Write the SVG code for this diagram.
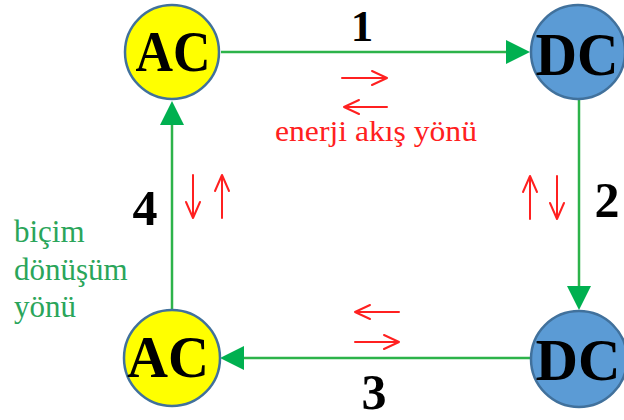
<svg xmlns="http://www.w3.org/2000/svg" width="624" height="420" viewBox="0 0 624 420">
<style>
.node{stroke:#41719c;stroke-width:2.5}
.ac{fill:#ffff00}
.dc{fill:#5b9bd5}
.nt{font-family:"Liberation Serif",serif;font-weight:bold;fill:#000;text-anchor:middle}
.num{font-family:"Liberation Serif",serif;font-weight:bold;font-size:50px;fill:#000;text-anchor:middle}
.conn{stroke:#2db34a;stroke-width:2.5;fill:none}
.red{stroke:#ff2020;stroke-width:2;fill:none;stroke-linecap:round;stroke-linejoin:round}
.rt{font-family:"Liberation Serif",serif;font-size:29px;fill:#ff2020;text-anchor:middle}
.gt{font-family:"Liberation Serif",serif;font-size:31px;fill:#2aa55a}
</style>
<g id="connectors">
<line class="conn" x1="221" y1="52" x2="507" y2="52"/>
<path d="M506,40 L530,52 L506,64 z" fill="#00b050"/>
<line class="conn" x1="579" y1="100" x2="579" y2="287"/>
<path d="M567,286 L579,310 L591,286 z" fill="#00b050"/>
<line class="conn" x1="531" y1="358" x2="243" y2="358"/>
<path d="M244,346 L220,358 L244,370 z" fill="#00b050"/>
<line class="conn" x1="172" y1="310" x2="172" y2="124"/>
<path d="M160,125 L172,101 L184,125 z" fill="#00b050"/>
<text class="num" x="362" y="41" font-size="45" style="font-size:45px">1</text>
<text class="num" x="607" y="217">2</text>
<text class="num" x="374" y="409">3</text>
<text class="num" x="145" y="225">4</text>
</g>
<g id="energy-arrows">
<path class="red" d="M342,78 H386 M372,71 L387,78 L372,85"/>
<path class="red" d="M387,107 H344 M359,100 L344,107 L359,114"/>
<text class="rt" x="376" y="141" textLength="202" lengthAdjust="spacingAndGlyphs">enerji akış yönü</text>
<path class="red" d="M193,175 V218 M186,202 L193,218 L200,202"/>
<path class="red" d="M222,218 V175 M215,191 L222,175 L229,191"/>
<path class="red" d="M530,219 V176 M523,192 L530,176 L537,192"/>
<path class="red" d="M557,176 V219 M550,203 L557,219 L564,203"/>
<path class="red" d="M399,312 H355 M370,305 L355,312 L370,319"/>
<path class="red" d="M355,342 H399 M384,335 L399,342 L384,349"/>
</g>
<g id="form-label">
<text class="gt" x="14" y="242">biçim</text>
<text class="gt" x="14" y="280">dönüşüm</text>
<text class="gt" x="14" y="317">yönü</text>
</g>
<g id="ac-top">
<circle class="node ac" cx="172" cy="52" r="47"/>
<text class="nt" x="173" y="71" font-size="58" textLength="75" lengthAdjust="spacingAndGlyphs">AC</text>
</g>
<g id="dc-top">
<circle class="node dc" cx="578" cy="52" r="47"/>
<text class="nt" x="577" y="75" font-size="62" textLength="83" lengthAdjust="spacingAndGlyphs">DC</text>
</g>
<g id="dc-bottom">
<circle class="node dc" cx="579" cy="359" r="48"/>
<text class="nt" x="578" y="380" font-size="60" textLength="85" lengthAdjust="spacingAndGlyphs">DC</text>
</g>
<g id="ac-bottom">
<circle class="node ac" cx="172" cy="358" r="48"/>
<text class="nt" x="168" y="377" font-size="60" textLength="82" lengthAdjust="spacingAndGlyphs">AC</text>
</g>
</svg>
